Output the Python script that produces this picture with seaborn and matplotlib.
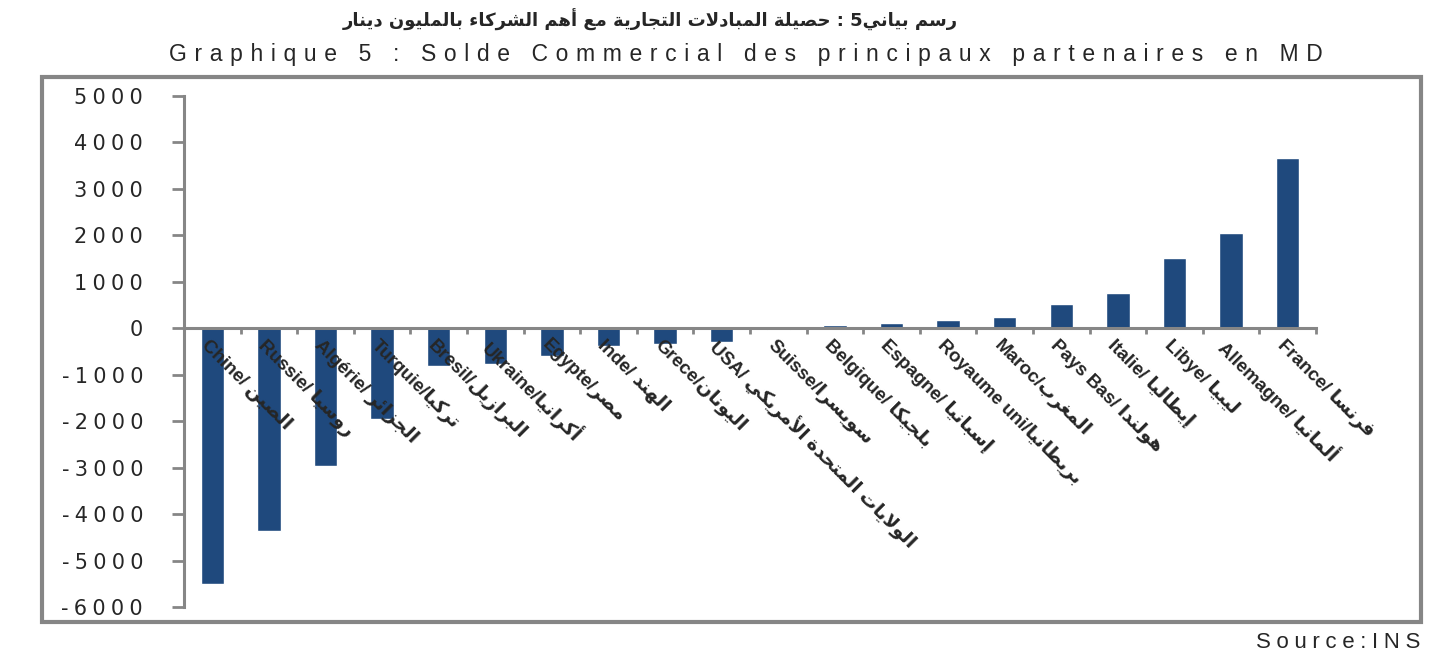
import numpy as np
import matplotlib
matplotlib.use('Agg')
import matplotlib.pyplot as plt
import seaborn as sns
from matplotlib.patches import Rectangle

# Trade balance with main partners (million dinars)
partners_fr = ['Chine/ ', 'Russie/ ', 'Algérie/ ', 'Turquie/', 'Bresil/', 'Ukraine/', 'Egypte/',
               'Inde/ ', 'Grece/', 'USA/ ', 'Suisse/', 'Belgique/ ', 'Espagne/ ', 'Royaume uni/',
               'Maroc/', 'Pays Bas/ ', 'Italie/ ', 'Libye/ ', 'Allemagne/ ', 'France/ ']
partners_ar = ['الصين', 'روسيا', 'الجزائر', 'تركيا', 'البرازيل', 'أكرانيا', 'مصر',
               'الهند', 'اليونان', 'الولايات المتحدة الأمريكي', 'سويسرا', 'بلجيكا', 'إسبانيا', 'بريطانيا',
               'المغرب', 'هولندا', 'إيطاليا', 'ليبيا', 'ألمانيا', 'فرنسا']
balance = [-5500, -4370, -2970, -1960, -820, -775, -600, -390, -345, -300,
           -30, 80, 120, 170, 250, 530, 770, 1510, 2050, 3660]
yticks = list(range(-6000, 5001, 1000))

title_ar = 'رسم بياني5 : حصيلة المبادلات التجارية مع أهم الشركاء بالمليون دينار'
title_fr = 'Graphique 5 : Solde Commercial des principaux partenaires en MD'
source = 'Source:INS'

BLUE = '#1F497D'
GREY = '#868686'
SP = '\u2005'  # letter spacing used by the original (Excel) fonts

# matplotlib has no Arabic shaping: pick contextual forms and put in visual order
FORMS = {'ء': (0xFE80, 0), 'آ': (0xFE81, 1), 'أ': (0xFE83, 1), 'ؤ': (0xFE85, 1), 'إ': (0xFE87, 1),
         'ئ': (0xFE89, 2), 'ا': (0xFE8D, 1), 'ب': (0xFE8F, 2), 'ة': (0xFE93, 1), 'ت': (0xFE95, 2),
         'ث': (0xFE99, 2), 'ج': (0xFE9D, 2), 'ح': (0xFEA1, 2), 'خ': (0xFEA5, 2), 'د': (0xFEA9, 1),
         'ذ': (0xFEAB, 1), 'ر': (0xFEAD, 1), 'ز': (0xFEAF, 1), 'س': (0xFEB1, 2), 'ش': (0xFEB5, 2),
         'ص': (0xFEB9, 2), 'ض': (0xFEBD, 2), 'ط': (0xFEC1, 2), 'ظ': (0xFEC5, 2), 'ع': (0xFEC9, 2),
         'غ': (0xFECD, 2), 'ف': (0xFED1, 2), 'ق': (0xFED5, 2), 'ك': (0xFED9, 2), 'ل': (0xFEDD, 2),
         'م': (0xFEE1, 2), 'ن': (0xFEE5, 2), 'ه': (0xFEE9, 2), 'و': (0xFEED, 1), 'ى': (0xFEEF, 1),
         'ي': (0xFEF1, 2)}
LAM_ALEF = {'ا': 0xFEFB, 'أ': 0xFEF7, 'إ': 0xFEF9, 'آ': 0xFEF5}


def jtype(c):
    if isinstance(c, tuple):
        return 1
    return FORMS.get(c, (None, 0))[1]


def ar(s):
    chars = []
    i = 0
    while i < len(s):
        if s[i] == 'ل' and i + 1 < len(s) and s[i + 1] in LAM_ALEF:
            chars.append(('LA', s[i + 1]))
            i += 2
        else:
            chars.append(s[i])
            i += 1
    out = []
    for k, c in enumerate(chars):
        prev = chars[k - 1] if k > 0 else None
        nxt = chars[k + 1] if k + 1 < len(chars) else None
        jp = prev is not None and jtype(prev) == 2 and jtype(c) > 0
        jn = nxt is not None and jtype(c) == 2 and jtype(nxt) > 0
        if isinstance(c, tuple):
            out.append(chr(LAM_ALEF[c[1]] + (1 if jp else 0)))
        elif c in FORMS:
            base, t = FORMS[c]
            if t == 2:
                idx = 3 if (jp and jn) else 1 if jp else 2 if jn else 0
            elif t == 1:
                idx = 1 if jp else 0
            else:
                idx = 0
            out.append(chr(base + idx))
        else:
            out.append(c)
    return ''.join(reversed(out))


sns.set_style('white')
plt.rcParams['font.family'] = ['DejaVu Sans']

W, H = 1456, 670
fig = plt.figure(figsize=(W / 100, H / 100), dpi=100)
ax = fig.add_axes([184 / W, 1 - 607 / H, (1316 - 184) / W, (607 - 96) / H])

sns.barplot(x=partners_fr, y=balance, color=BLUE, saturation=1, width=0.41, ax=ax)

ax.set_ylim(-6000, 5000)
ax.set_xlim(-0.5, len(balance) - 0.5)
ax.set_yticks(yticks)
ax.set_yticklabels([SP.join(str(v)) for v in yticks], fontsize=15)
ax.set_xticks(np.arange(-0.5, len(balance), 1))
ax.tick_params(axis='x', bottom=True, labelbottom=False, direction='out', length=4.5, width=2, color=GREY)
ax.tick_params(axis='y', left=True, direction='out', length=8.5, width=2, color=GREY, pad=21)
ax.set_xlabel('')
ax.set_ylabel('')
for side in ['top', 'right']:
    ax.spines[side].set_visible(False)
for side in ['left', 'bottom']:
    ax.spines[side].set_color(GREY)
    ax.spines[side].set_linewidth(2.2)
ax.spines['bottom'].set_position(('data', 0))

for i, (f, a) in enumerate(zip(partners_fr, partners_ar)):
    ax.text(i - 0.02, -170, f + ar(a), rotation=-45, rotation_mode='anchor', ha='left', va='top',
            fontsize=13.5, fontweight='bold', family=['Liberation Sans', 'DejaVu Sans'])

fig.add_artist(Rectangle((42 / W, 1 - 622 / H), (1421 - 42) / W, (622 - 77) / H,
                         transform=fig.transFigure, fill=False, ec=GREY, lw=3))

fig.text(650 / W, 1 - 20 / H, ar(title_ar), ha='center', va='center', fontsize=13, fontweight='bold')
fig.text(746 / W, 1 - 55 / H, '\u2004'.join(title_fr), ha='center', va='center', fontsize=16.5,
         family=['Liberation Sans', 'DejaVu Sans'])
fig.text(1420 / W, 1 - 642 / H, SP.join(source), ha='right', va='center', fontsize=16,
         family=['Liberation Sans', 'DejaVu Sans'])

fig.savefig('out.png', dpi=100)
